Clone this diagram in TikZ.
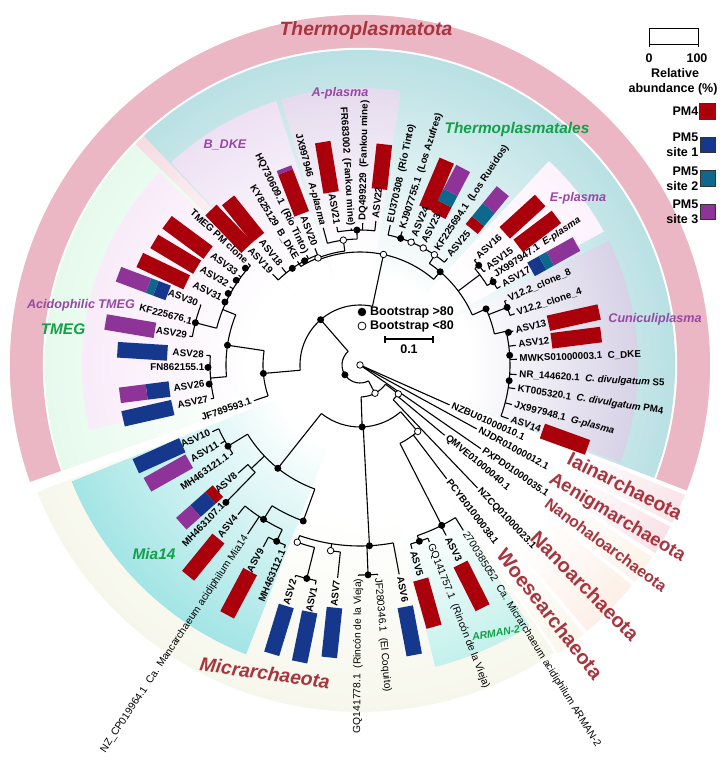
\documentclass[tikz,border=0pt]{standalone}
\usepackage{fontspec}
\setmainfont{Liberation Sans}

\definecolor{ringpink}{RGB}{236,183,196}
\definecolor{tealbg}{RGB}{146,207,212}
\definecolor{mintbg}{RGB}{214,247,224}
\definecolor{creambg}{RGB}{240,241,222}
\definecolor{miateal}{RGB}{112,214,214}
\definecolor{armanteal}{RGB}{140,228,218}
\definecolor{aplasmabox}{RGB}{212,194,226}
\definecolor{bdkebox}{RGB}{226,204,236}
\definecolor{eplasmabox}{RGB}{252,234,250}
\definecolor{cunibox}{RGB}{188,180,214}
\definecolor{acidbox}{RGB}{245,222,245}
\definecolor{iainband}{RGB}{241,194,206}
\definecolor{aenigband}{RGB}{242,190,204}
\definecolor{nanohaloband}{RGB}{251,230,210}
\definecolor{nanoband}{RGB}{250,220,202}
\definecolor{woeseband}{RGB}{247,235,214}
\definecolor{pmred}{RGB}{170,0,12}
\definecolor{siteblue}{RGB}{22,56,140}
\definecolor{siteteal}{RGB}{14,104,142}
\definecolor{sitepurple}{RGB}{142,52,152}
\definecolor{phylumred}{RGB}{168,52,62}
\definecolor{cladegreen}{RGB}{18,160,72}
\definecolor{subpurple}{RGB}{150,72,165}

\pgfdeclareradialshading{fadepink}{\pgfpointorigin}{color(0bp)=(white); color(10bp)=(white); color(35bp)=(ringpink); color(50bp)=(ringpink)}
\pgfdeclareradialshading{fadeteal}{\pgfpointorigin}{color(0bp)=(white); color(7bp)=(white); color(35bp)=(tealbg); color(50bp)=(tealbg)}
\pgfdeclareradialshading{fademint}{\pgfpointorigin}{color(0bp)=(white); color(9bp)=(white); color(35bp)=(mintbg); color(50bp)=(mintbg)}
\pgfdeclareradialshading{fadecream}{\pgfpointorigin}{color(0bp)=(white); color(11bp)=(white); color(35bp)=(creambg); color(50bp)=(creambg)}
\pgfdeclareradialshading{fademia}{\pgfpointorigin}{color(0bp)=(white); color(7bp)=(white); color(35bp)=(miateal); color(50bp)=(miateal)}
\pgfdeclareradialshading{fadearman}{\pgfpointorigin}{color(0bp)=(white); color(14bp)=(white); color(35bp)=(armanteal); color(50bp)=(armanteal)}
\pgfdeclareradialshading{fadeiain}{\pgfpointorigin}{color(0bp)=(white); color(17bp)=(white); color(35bp)=(iainband); color(50bp)=(iainband)}
\pgfdeclareradialshading{fadeaenig}{\pgfpointorigin}{color(0bp)=(white); color(17bp)=(white); color(35bp)=(aenigband); color(50bp)=(aenigband)}
\pgfdeclareradialshading{fadenanohalo}{\pgfpointorigin}{color(0bp)=(white); color(17bp)=(white); color(35bp)=(nanohaloband); color(50bp)=(nanohaloband)}
\pgfdeclareradialshading{fadenano}{\pgfpointorigin}{color(0bp)=(white); color(17bp)=(white); color(35bp)=(nanoband); color(50bp)=(nanoband)}
\pgfdeclareradialshading{fadewoese}{\pgfpointorigin}{color(0bp)=(white); color(17bp)=(white); color(35bp)=(woeseband); color(50bp)=(woeseband)}
\pgfdeclareradialshading{fadeaplasma}{\pgfpointorigin}{color(0bp)=(white); color(10bp)=(white); color(35bp)=(aplasmabox); color(50bp)=(aplasmabox)}
\pgfdeclareradialshading{fadebdke}{\pgfpointorigin}{color(0bp)=(white); color(10bp)=(white); color(35bp)=(bdkebox); color(50bp)=(bdkebox)}
\pgfdeclareradialshading{fadeeplasma}{\pgfpointorigin}{color(0bp)=(white); color(10bp)=(white); color(35bp)=(eplasmabox); color(50bp)=(eplasmabox)}
\pgfdeclareradialshading{fadecuni}{\pgfpointorigin}{color(0bp)=(white); color(10bp)=(white); color(35bp)=(cunibox); color(50bp)=(cunibox)}
\pgfdeclareradialshading{fadeacid}{\pgfpointorigin}{color(0bp)=(white); color(10bp)=(white); color(35bp)=(acidbox); color(50bp)=(acidbox)}

\newcounter{bsno}
\newcommand\cladebg[4]{\begin{scope}\clip (0,0) -- ({#1}:{#3}) arc[start angle={#1}, end angle={#2}, radius={#3pt}] -- cycle; \shade[shading=#4] (0,0) circle[radius={#3pt}];\end{scope}}
\newcommand\ringband[5]{\fill[#5] ({#1}:{#3}) arc[start angle={#1}, end angle={#2}, radius={#3pt}] -- ({#2}:{#4}) arc[start angle={#2}, end angle={#1}, radius={#4pt}] -- cycle;}
\newcommand\clade[3]{\draw[branch] ({#2}:{#1}) arc[start angle={#2}, end angle={#3}, radius={#1pt}];}
\newcommand\stem[3]{\draw[branch] ({#1}:{#2}) -- ({#1}:{#3});}
\newcommand\lleaf[6][leaflab]{\coordinate (t#5) at ({#2}:{#4}); \draw[branch] ({#2}:{#3}) -- (t#5); \node[#1, anchor=mid east, rotate={#2-180}] (l#5) at ({#2}:{#4+1.5}) {#6};}
\newcommand\rleaf[6][leaflab]{\coordinate (t#5) at ({#2}:{#4}); \draw[branch] ({#2}:{#3}) -- (t#5); \node[#1, anchor=mid west, rotate={#2}] (l#5) at ({#2}:{#4+1.5}) {#6};}
\newcommand\abund[4]{\fill[#4, rotate=#1] (#2,-7.8) rectangle (#3,7.8);}
\newcommand\bsf[2]{\stepcounter{bsno}\node[bsfill] (bs\thebsno) at ({#1}:{#2}) {};}
\newcommand\bso[2]{\stepcounter{bsno}\node[bsopen] (bs\thebsno) at ({#1}:{#2}) {};}

\begin{document}
\begin{tikzpicture}[x=1pt,y=1pt,
    branch/.style={line width=1.1pt, black},
    leaflab/.style={font=\fontsize{9.8}{11}\selectfont\bfseries, inner sep=1pt},
    leafreg/.style={font=\fontsize{10.3}{11}\selectfont, inner sep=1pt},
    bsfill/.style={circle, fill=black, inner sep=0pt, minimum size=7pt},
    bsopen/.style={circle, draw=black, fill=white, line width=0.8pt, inner sep=0pt, minimum size=6.5pt},
    phylum/.style={font=\fontsize{19.3}{21}\selectfont\bfseries\itshape, text=phylumred, inner sep=0pt},
    dpann/.style={font=\fontsize{#1}{#1}\selectfont\bfseries, text=phylumred, inner sep=0pt},
    order/.style={font=\fontsize{15.4}{17}\selectfont\bfseries\itshape, text=cladegreen, inner sep=0pt},
    subclade/.style={font=\fontsize{12.6}{14}\selectfont\bfseries\itshape, text=subpurple, inner sep=0pt},
    legtext/.style={font=\fontsize{12.5}{15}\selectfont\bfseries, inner sep=0pt},
    legsq/.style={draw=black!80, line width=0.6pt, minimum size=15.5pt, inner sep=0pt}]
\useasboundingbox (-360,-396) rectangle (367,365);

% coloured clade sectors
\cladebg{-21}{199.5}{350}{fadepink}
\ringband{-21}{199.5}{317}{350}{ringpink}
\draw[white, line width=2.2pt] (-21:316) arc[start angle=-21, end angle=199.5, radius=316pt];
\cladebg{-21}{133.3}{315}{fadeteal}
\cladebg{135.5}{199.5}{315}{fademint}
\cladebg{201.5}{304}{347}{fadecream}
\cladebg{202}{248.5}{311}{fademia}
\cladebg{284}{303}{311}{fadearman}
\cladebg{-26.8}{-21.8}{350}{fadeiain}
\cladebg{-32.5}{-27.5}{350}{fadeaenig}
\cladebg{-38.3}{-33.3}{350}{fadenanohalo}
\cladebg{-49.5}{-39}{350}{fadenano}
\cladebg{-55.5}{-50.2}{350}{fadewoese}
\cladebg{81.5}{106.6}{277}{fadeaplasma}
\cladebg{107.6}{133}{277}{fadebdke}
\cladebg{28.7}{47.2}{278}{fadeeplasma}
\cladebg{-20.5}{26.5}{278}{fadecuni}
\cladebg{136.2}{193.5}{278}{fadeacid}

% tree
\clade{18}{131}{298}
\stem{131}{18}{60}
\clade{60}{78}{185}
\stem{185}{60}{97}
\clade{97}{171.5}{198.6}
\stem{171.5}{97}{134}
\clade{134}{158}{185}
\stem{185}{134}{150}
\clade{150}{176.4}{192.8}
\stem{158}{134}{148}
\clade{148}{137.8}{165.6}
\stem{165.6}{148}{170}
\clade{170}{159.4}{170.4}
\stem{78}{60}{113}
\clade{113}{49.3}{111.4}
\stem{111.4}{113}{115}
\clade{115}{97.6}{121}
\stem{97.6}{115}{126}
\clade{126}{91.3}{105}
\stem{91.3}{126}{135}
\clade{135}{83.7}{99.5}
\stem{121}{115}{118}
\clade{118}{111.1}{133.9}
\stem{49.3}{113}{123}
\clade{123}{24}{55.7}
\stem{55.7}{123}{133}
\clade{133}{50.6}{77.8}
\stem{37}{123}{150}
\clade{150}{32}{40}
\stem{40}{150}{155}
\clade{155}{37}{42.4}
\stem{32}{150}{157}
\clade{157}{29.2}{33.5}
\stem{24}{123}{138}
\clade{138}{13}{24}
\stem{21.4}{138}{158}
\clade{158}{18.3}{23.8}
\stem{13}{138}{150}
\clade{150}{-19.9}{13}
\stem{298}{18}{32}
\clade{32}{272}{323}
\stem{323}{32}{48}
\clade{48}{313.7}{320.3}
\stem{272}{32}{62}
\clade{62}{231.5}{311}
\stem{311}{62}{88}
\clade{88}{297}{311}
\stem{297}{88}{180}
\clade{180}{288.6}{302}
\stem{288.6}{180}{186}
\clade{186}{285.8}{291.4}
\stem{273}{62}{181}
\clade{181}{250.5}{280.6}
\stem{272.2}{181}{210}
\clade{210}{269.6}{274.8}
\stem{261}{181}{188}
\clade{188}{261}{264}
\stem{250.5}{181}{188}
\clade{188}{250.5}{256}
\stem{256}{188}{220}
\clade{220}{253}{258.5}
\stem{231.5}{62}{132}
\clade{132}{211.6}{250}
\stem{211.6}{132}{155}
\clade{155}{204.3}{214.8}
\stem{223.6}{132}{150}
\clade{150}{221.6}{225.7}
\stem{250}{132}{166}
\clade{166}{238}{250}
\stem{238}{166}{182}
\clade{182}{230.8}{244.7}
\stem{244.7}{182}{195}
\clade{195}{242}{247.5}

% abundance bars
\abund{192.8}{192}{243}{siteblue}
\abund{187.2}{192}{215}{siteblue}\abund{187.2}{215}{242}{sitepurple}
\abund{176.4}{193}{243}{siteblue}
\abund{170.4}{208}{258}{sitepurple}
\abund{159.4}{205}{218}{siteblue}\abund{159.4}{218}{226}{siteteal}\abund{159.4}{226}{258}{sitepurple}
\abund{154.5}{192}{244}{pmred}
\abund{149}{190}{240}{pmred}
\abund{143.5}{189}{240}{pmred}
\abund{133.9}{163}{215}{pmred}
\abund{128.7}{163}{211}{pmred}
\abund{111.1}{162}{207}{pmred}\abund{111.1}{207}{211}{sitepurple}
\abund{99.5}{175}{226}{pmred}
\abund{83.7}{177}{222}{pmred}
\abund{67}{170}{222}{pmred}
\abund{62.3}{169}{182}{pmred}\abund{62.3}{182}{195}{siteteal}\abund{62.3}{195}{222}{sitepurple}
\abund{50.6}{176}{186}{pmred}\abund{50.6}{186}{203}{siteteal}\abund{50.6}{203}{225}{sitepurple}
\abund{42.4}{196}{244}{pmred}
\abund{37}{198}{246}{pmred}
\abund{29.2}{196}{209}{siteblue}\abund{29.2}{209}{218}{siteteal}\abund{29.2}{218}{248}{sitepurple}
\abund{12.5}{193}{245}{pmred}
\abund{7.2}{193}{243}{pmred}
\abund{-19.9}{194}{242}{pmred}
\abund{296.8}{223}{272}{pmred}
\abund{285.8}{223}{272}{pmred}
\abund{280.6}{246}{295}{siteblue}
\abund{264}{244}{294}{siteblue}
\abund{258.5}{252}{303}{siteblue}
\abund{253}{252}{302}{siteblue}
\abund{242}{234}{283}{pmred}
\abund{230.8}{224}{272}{pmred}
\abund{221.6}{190}{200}{pmred}\abund{221.6}{200}{220}{siteblue}\abund{221.6}{220}{239}{sitepurple}
\abund{209.4}{196}{244}{sitepurple}
\abund{204.3}{195}{246}{siteblue}

% leaves
\lleaf{198.6}{97}{112}{jf789593}{JF789593.1}
\lleaf{192.8}{150}{153}{asv27}{ASV27}
\lleaf{187.2}{150}{154}{asv26}{ASV26}
\lleaf{180.9}{150}{153}{fn862155}{FN862155.1}
\lleaf{176.4}{150}{154}{asv28}{ASV28}
\lleaf{170.4}{170}{173}{asv29}{ASV29}
\lleaf{165.6}{170}{171}{kf225676}{KF225676.1}
\lleaf{159.4}{170}{171}{asv30}{ASV30}
\lleaf{154.5}{148}{151}{asv31}{ASV31}
\lleaf{149}{148}{152}{asv32}{ASV32}
\lleaf{143.5}{148}{151}{asv33}{ASV33}
\lleaf{137.8}{148}{151}{tmegpm}{TMEG PM clone}
\lleaf{133.9}{118}{126}{asv19}{ASV19}
\lleaf{128.7}{118}{125}{asv18}{ASV18}
\lleaf{121.1}{118}{121}{ky825129}{KY825129 \ B\_DKE}
\lleaf{115.9}{118}{122}{hq730609}{HQ730609.1 \ (Río Tinto)}
\lleaf{111.1}{118}{125}{asv20}{ASV20}
\lleaf{105}{126}{142}{jx997946}{JX997946 \ \textit{A-plasma}}
\lleaf{99.5}{135}{140}{asv21}{ASV21}
\lleaf{93.7}{135}{137}{fr683002}{FR683002 \ (Fankou mine)}
\rleaf{88.9}{135}{142}{dq499229}{DQ499229 \ (Fankou mine)}
\rleaf{83.7}{135}{145}{asv22}{ASV22}
\rleaf{77.8}{133}{143}{eu370308}{EU370308 \ (Río Tinto)}
\rleaf{72.5}{133}{140}{kj907755}{KJ907755.1 \ (Los Azufres)}
\rleaf{67}{133}{137}{asv24}{ASV24}
\rleaf{62.3}{133}{136}{asv23}{ASV23}
\rleaf{56.2}{133}{136}{kf225694}{KF225694.1 \ (Los Rueidos)}
\rleaf{50.6}{133}{138}{asv25}{ASV25}
\rleaf{42.4}{155}{157}{asv16}{ASV16}
\rleaf{37}{155}{157}{asv15}{ASV15}
\rleaf{33.5}{157}{159}{jx997947}{JX997947.1 \ \textit{E-plasma}}
\rleaf{29.2}{157}{161}{asv17}{ASV17}
\rleaf{23.8}{158}{160}{v122c8}{V12.2\_clone\_8}
\rleaf{18.3}{158}{163}{v122c4}{V12.2\_clone\_4}
\rleaf{12.5}{150}{157}{asv13}{ASV13}
\rleaf{7.2}{150}{157}{asv12}{ASV12}
\rleaf{2.1}{150}{157}{mwks}{MWKS01000003.1 \ C\_DKE}
\rleaf{-3.5}{150}{157}{nr144620}{NR\_144620.1 \ \textit{C. divulgatum} S5}
\rleaf{-8.7}{150}{157}{kt005320}{KT005320.1 \ \textit{C. divulgatum} PM4}
\rleaf{-14.6}{150}{157}{jx997948}{JX997948.1 \ \textit{G-plasma}}
\rleaf{-19.9}{150}{158}{asv14}{ASV14}
\rleaf{-24}{3.5}{98}{nzbu}{NZBU01000010.1}
\rleaf{-28.7}{3.5}{133}{njdr}{NJDR01000012.1}
\rleaf{-34.7}{3.5}{147}{pxpd}{PXPD01000035.1}
\rleaf{320.3}{48}{110}{qmve}{QMVE01000040.1}
\rleaf{313.7}{48}{170}{nzcq}{NZCQ01000023.1}
\rleaf{307.3}{88}{143}{pcyb}{PCYB01000038.1}
\rleaf[leafreg]{302}{180}{195}{arman}{2700385052 \ Ca. Micrarchaeum acidiphilum ARMAN-2}
\rleaf{296.8}{180}{191}{asv3}{ASV3}
\rleaf[leafreg]{291.4}{186}{190}{gq141757}{GQ141757.1 \ (Rincón de la Vieja)}
\rleaf{285.8}{186}{191}{asv5}{ASV5}
\rleaf{280.6}{181}{213}{asv6}{ASV6}
\rleaf[leafreg]{274.8}{210}{211}{jf280346}{JF280346.1 \ (El Coquito)}
\lleaf[leafreg]{269.6}{210}{211}{gq141778}{GQ141778.1 \ (Rincón de la Vieja)}
\lleaf{264}{188}{214}{asv7}{ASV7}
\lleaf{258.5}{220}{224}{asv1}{ASV1}
\lleaf{253}{220}{222}{asv2}{ASV2}
\lleaf{247.5}{195}{198}{mh463112}{MH463112.1}
\lleaf{242}{195}{206}{asv9}{ASV9}
\lleaf[leafreg]{236.4}{182}{203}{nzcp}{NZ\_CP019964.1 \ Ca. Mancarchaeum acidiphilum Mia14}
\lleaf{230.8}{182}{193}{asv4}{ASV4}
\lleaf{225.7}{150}{193}{mh463107}{MH463107.1}
\lleaf{221.6}{150}{163}{asv8}{ASV8}
\lleaf{214.8}{155}{158}{mh463121}{MH463121.1}
\lleaf{209.4}{155}{160}{asv11}{ASV11}
\lleaf{204.3}{155}{162}{asv10}{ASV10}

% bootstrap support
\bso{0}{0} \bsf{213}{18} \bsf{131}{60} \bsf{185}{97} \bsf{171.5}{134}
\bsf{180.9}{152} \bsf{187.2}{152} \bsf{165.6}{170}
\bsf{155}{149} \bsf{151.5}{150} \bsf{145.6}{150} \bsf{139.8}{150}
\bso{78}{113} \bso{111.4}{115} \bso{97.6}{126} \bsf{91.3}{135}
\bsf{118}{118} \bsf{125}{118} \bsf{49.3}{123}
\bso{56}{133} \bso{61.6}{133} \bso{67.4}{133} \bsf{72.2}{133}
\bsf{40}{155} \bsf{32}{157} \bsf{24}{138} \bsf{21.4}{158}
\bsf{12.4}{152} \bsf{3.7}{150} \bsf{-6}{150}
\bso{298}{32} \bso{323}{48} \bsf{272}{62} \bso{311}{88}
\bsf{297}{180} \bsf{288.6}{186} \bsf{273}{181} \bsf{272.2}{210}
\bso{261}{188} \bso{250.5}{188} \bsf{256}{220}
\bsf{231.5}{132} \bsf{211.6}{155} \bsf{225.7}{192} \bsf{250}{166}
\bsf{238}{182} \bsf{244.7}{195}

% clade names
\node[phylum] (thermoplasmatota) at (6,334) {Thermoplasmatota};
\node[phylum, rotate=-8] (micrarchaeota) at (-95,-308) {Micrarchaeota};
\node[dpann=19.5, rotate=-27] (iainarch) at (265,-121) {Iainarchaeota};
\node[dpann=18.5, rotate=-31] (aenigarch) at (257,-153) {Aenigmarchaeota};
\node[dpann=15.8, rotate=-36.4] (nanohaloarch) at (246,-180) {Nanohaloarchaeota};
\node[dpann=20, rotate=-45.3] (nanoarch) at (225,-221) {Nanoarchaeota};
\node[dpann=20, rotate=-52] (woesearch) at (190,-249) {Woesearchaeota};
\node[order] (thermoplasmatales) at (157,235) {Thermoplasmatales};
\node[order] (tmeg) at (-297,36) {TMEG};
\node[order] (mia14) at (-206,-189) {Mia14};
\node[order, font=\fontsize{10.5}{12}\selectfont\bfseries\itshape, rotate=10] (arman2) at (136,-268) {ARMAN-2};
\node[subclade] (aplasma) at (-20,272) {A-plasma};
\node[subclade] (bdke) at (-135,220) {B\_DKE};
\node[subclade] (eplasma) at (218,167) {E-plasma};
\node[subclade] (cuniculiplasma) at (295,46) {Cuniculiplasma};
\node[subclade] (acidtmeg) at (-279,60) {Acidophilic TMEG};

% bootstrap key and scale
\node[bsfill, minimum size=8.5pt] (keyfill) at (2,53) {};
\node[legtext, anchor=west] (keyfilltext) at (10,53) {Bootstrap >80};
\node[bsopen, minimum size=8pt] (keyopen) at (2,39) {};
\node[legtext, anchor=west] (keyopentext) at (10,39) {Bootstrap <80};
\draw[line width=1.4pt] (25,26) -- (73,26);
\draw[line width=1.2pt] (25,22.5) -- (25,29.5) (73,22.5) -- (73,29.5);
\node[legtext] (scalelab) at (49,16) {0.1};

% abundance key
\draw[line width=0.8pt] (289,318) -- (289,337) -- (338,337) -- (338,318);
\draw[line width=0.8pt] (289,321) -- (338,321);
\node[legtext] (scalezero) at (289,307) {0};
\node[legtext] (scalehundred) at (337,307) {100};
\node[legtext] (relative) at (315,292) {Relative};
\node[legtext] (abundance) at (313,276) {abundance (\%)};
\node[legsq, fill=pmred] (sqpm4) at (347.5,253.5) {};
\node[legtext, anchor=east] (keypm4) at (338.5,253.5) {PM4};
\node[legsq, fill=siteblue] (sqsite1) at (348,220) {};
\node[legtext, anchor=east, align=right] (keysite1) at (338.5,220) {PM5\\site 1};
\node[legsq, fill=siteteal] (sqsite2) at (348,186.5) {};
\node[legtext, anchor=east, align=right] (keysite2) at (338.5,186.5) {PM5\\site 2};
\node[legsq, fill=sitepurple] (sqsite3) at (348,153) {};
\node[legtext, anchor=east, align=right] (keysite3) at (338.5,153) {PM5\\site 3};
\end{tikzpicture}
\end{document}
